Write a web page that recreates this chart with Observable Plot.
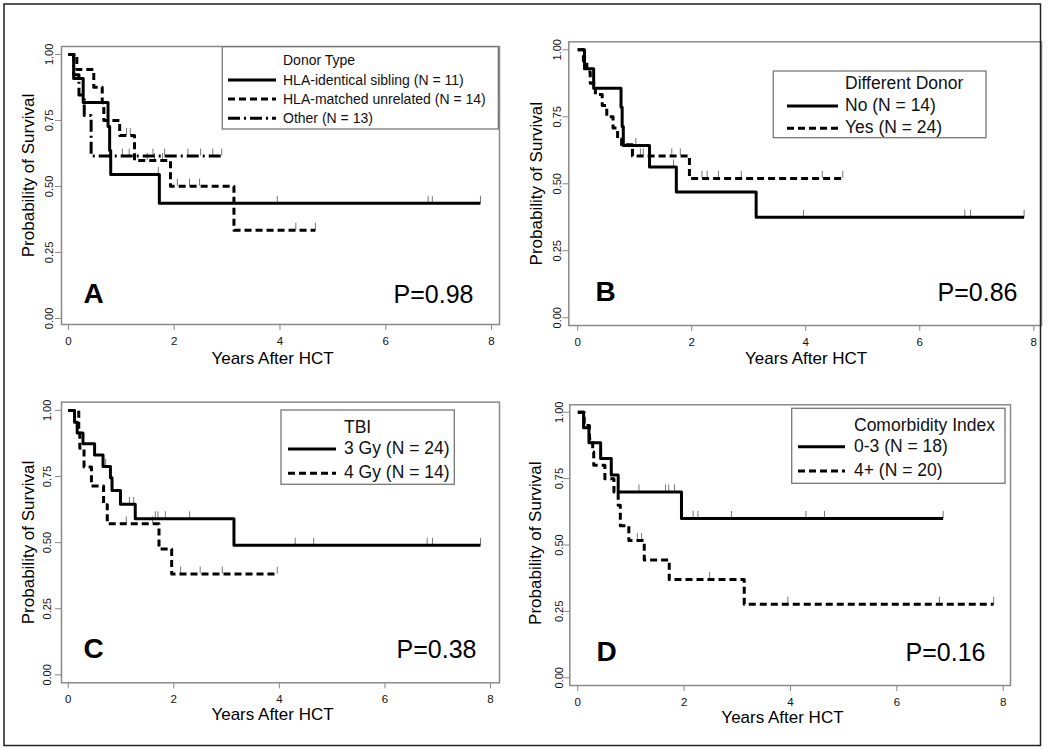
<!DOCTYPE html>
<html><head><meta charset="utf-8">
<script src="https://cdn.jsdelivr.net/npm/d3@7"></script>
<script src="https://cdn.jsdelivr.net/npm/@observablehq/plot@0.6"></script>
<style>
html,body{margin:0;padding:0;background:#fff;}
#fig{position:relative;width:1050px;height:749px;overflow:hidden;background:#fff;font-family:"Liberation Sans",Arial,Helvetica,sans-serif;}
#fig svg.panel{position:absolute;}
#overlay{position:absolute;left:0;top:0;pointer-events:none;}
</style></head><body><div id="fig"></div>
<script>
// ---------------- DATA ----------------
const xTicks = [0, 2, 4, 6, 8];
const yTicks = [0, 0.25, 0.5, 0.75, 1];
const xTitle = "Years After HCT";
const yTitle = "Probability of Survival";

// Panel A – Donor Type
const aLetter = "A";
const aPValue = "P=0.98";
const aLegendTitle = "Donor Type";
const aLabels = ["HLA-identical sibling (N = 11)", "HLA-matched unrelated (N = 14)", "Other (N = 13)"];
const aSibTime = [0, 0.10, 0.28, 0.75, 0.78, 0.80, 1.72, 7.79];
const aSibSurv = [1, 0.909, 0.818, 0.727, 0.636, 0.545, 0.436, 0.436];
const aSibCens = [1.70, 3.95, 6.80, 6.88, 7.79];
const aMudTime = [0, 0.16, 0.48, 0.64, 0.67, 0.97, 1.25, 1.93, 3.13, 4.67];
const aMudSurv = [1, 0.943, 0.876, 0.817, 0.75, 0.693, 0.598, 0.501, 0.334, 0.334];
const aMudCens = [1.10, 1.17, 1.49, 1.63, 1.78, 2.06, 2.29, 2.48, 4.30, 4.67];
const aOthTime = [0, 0.10, 0.20, 0.30, 0.43, 2.90];
const aOthSurv = [1, 0.923, 0.846, 0.769, 0.615, 0.615];
const aOthCens = [1.02, 1.15, 1.60, 1.82, 2.26, 2.50, 2.73, 2.90];

// Panel B – Different Donor
const bLetter = "B";
const bPValue = "P=0.86";
const bLegendTitle = "Different Donor";
const bLabels = ["No (N = 14)", "Yes (N = 24)"];
const bNoTime = [0, 0.12, 0.28, 0.76, 0.78, 0.80, 1.26, 1.73, 3.13, 7.83];
const bNoSurv = [1, 0.929, 0.857, 0.786, 0.714, 0.643, 0.563, 0.469, 0.375, 0.375];
const bNoCens = [1.02, 1.68, 3.96, 6.79, 6.89, 7.83];
const bYesTime = [0, 0.10, 0.16, 0.22, 0.31, 0.43, 0.51, 0.62, 0.70, 0.77, 0.96, 1.96, 4.65];
const bYesSurv = [1, 0.958, 0.917, 0.875, 0.833, 0.792, 0.75, 0.708, 0.667, 0.646, 0.604, 0.52, 0.52];
const bYesCens = [0.98, 1.10, 1.15, 1.65, 1.80, 2.18, 2.27, 2.47, 2.87, 4.29, 4.65];

// Panel C – TBI
const cLetter = "C";
const cPValue = "P=0.38";
const cLegendTitle = "TBI";
const cLabels = ["3 Gy (N = 24)", "4 Gy (N = 14)"];
const c3Time = [0, 0.12, 0.17, 0.28, 0.50, 0.66, 0.80, 0.83, 0.99, 1.27, 3.14, 7.81];
const c3Surv = [1, 0.955, 0.915, 0.874, 0.831, 0.788, 0.745, 0.697, 0.645, 0.59, 0.49, 0.49];
const c3Cens = [0.71, 1.16, 1.24, 1.65, 1.70, 1.84, 2.30, 4.30, 4.65, 6.80, 6.90, 7.81];
const c4Time = [0, 0.20, 0.22, 0.30, 0.44, 0.67, 0.74, 1.72, 1.96, 3.96];
const c4Surv = [1, 0.929, 0.857, 0.786, 0.714, 0.643, 0.571, 0.476, 0.381, 0.381];
const c4Cens = [1.10, 1.60, 2.13, 2.50, 2.92, 3.96];

// Panel D – Comorbidity Index
const dLetter = "D";
const dPValue = "P=0.16";
const dLegendTitle = "Comorbidity Index";
const dLabels = ["0-3 (N = 18)", "4+ (N = 20)"];
const d03Time = [0, 0.11, 0.21, 0.43, 0.63, 0.76, 1.95, 6.87];
const d03Surv = [1, 0.942, 0.885, 0.826, 0.764, 0.70, 0.60, 0.60];
const d03Cens = [1.15, 1.65, 1.71, 1.82, 2.17, 2.26, 2.89, 4.29, 4.64, 6.87];
const d4Time = [0, 0.12, 0.22, 0.28, 0.30, 0.51, 0.68, 0.76, 0.80, 0.96, 1.25, 1.72, 3.13, 7.82];
const d4Surv = [1, 0.95, 0.90, 0.85, 0.80, 0.75, 0.70, 0.65, 0.573, 0.517, 0.444, 0.37, 0.277, 0.277];
const d4Cens = [1.12, 1.20, 2.48, 3.95, 6.80, 7.82];

// ---------------- STYLES / LAYOUT ----------------
const SOLID = null, DASH = "7,4", DASHDOT = "12,4,2,4";
const font = "'Liberation Sans', Arial, Helvetica, sans-serif";

const panels = [
  {letter: aLetter, p: aPValue,
   series: [[aSibTime, aSibSurv, aSibCens, SOLID], [aMudTime, aMudSurv, aMudCens, DASH], [aOthTime, aOthSurv, aOthCens, DASHDOT]],
   left: 0, top: 0, width: 525, height: 375, m: [46, 26, 51, 61],
   xd: [-0.13, 8.15], yd: [-0.023, 1.03],
   letterOff: [22, -22], pOff: [-26, -22], xtOff: [-8, 39.5], ytOff: [-27.7, -10], yTickDx: -9},
  {letter: bLetter, p: bPValue,
   series: [[bNoTime, bNoSurv, bNoCens, SOLID], [bYesTime, bYesSurv, bYesCens, DASH]],
   left: 525, top: 0, width: 525, height: 375, m: [41.3, 9, 50, 43.3],
   xd: [-0.156, 8.135], yd: [-0.029, 1.03],
   letterOff: [26.7, -25], pOff: [-24, -25], xtOff: [1, 38], ytOff: [-26.6, 0], yTickDx: -8.3},
  {letter: cLetter, p: cPValue,
   series: [[c3Time, c3Surv, c3Cens, SOLID], [c4Time, c4Surv, c4Cens, DASH]],
   left: 0, top: 375, width: 525, height: 374, m: [26.7, 26, 66.7, 61],
   xd: [-0.127, 8.17], yd: [-0.03, 1.031],
   letterOff: [22, -25.3], pOff: [-23, -25.3], xtOff: [-8, 37.5], ytOff: [-27.7, 0], yTickDx: -10.5},
  {letter: dLetter, p: dPValue,
   series: [[d03Time, d03Surv, d03Cens, SOLID], [d4Time, d4Surv, d4Cens, DASH]],
   left: 525, top: 375, width: 525, height: 374, m: [29.3, 40, 64, 44.3],
   xd: [-0.15, 8.137], yd: [-0.029, 1.028],
   letterOff: [26.7, -25], pOff: [-25, -25], xtOff: [-7.7, 37], ytOff: [-29.3, -2], yTickDx: -7.3}
];

const legends = [
  {title: aLegendTitle, labels: aLabels, dashes: [SOLID, DASH, DASHDOT], box: [222.3, 46.7, 498.3, 129], textX: 283, titleY: 65, rowY: [80, 99, 118.3], base: 4.6, sample: [228, 276], fs: 14},
  {title: bLegendTitle, labels: bLabels, dashes: [SOLID, DASH], box: [773.3, 71, 986, 137.7], textX: 845, titleY: 89, rowY: [106, 128.3], base: 4.8, sample: [787, 838], fs: 17.5},
  {title: cLegendTitle, labels: cLabels, dashes: [SOLID, DASH], box: [281, 410, 454.3, 484.3], textX: 344, titleY: 433, rowY: [449, 473.3], base: 4.8, sample: [288, 336], fs: 17.5},
  {title: dLegendTitle, labels: dLabels, dashes: [SOLID, DASH], box: [791.7, 408.3, 1005, 483.3], textX: 854, titleY: 430.6, rowY: [446.7, 471], base: 4.8, sample: [798, 845], fs: 17.5}
];

function survAt(times, surv, t) {
  const i = d3.bisectRight(times, t) - 1;
  return surv[Math.max(0, Math.min(i, surv.length - 1))];
}

const fig = document.getElementById("fig");

for (const P of panels) {
  const marks = [
    Plot.frame({stroke: "#8a8a8a", strokeWidth: 1.5}),
    Plot.axisX({ticks: xTicks, tickSize: 6, tickPadding: 6, fontSize: 11.5, label: null, stroke: "#888", fill: "#111"}),
    Plot.axisY({ticks: yTicks, tickSize: 6, tickFormat: () => "", label: null, stroke: "#888"}),
    Plot.text(yTicks, {y: d => d, text: d => d3.format(".2f")(d), frameAnchor: "left", rotate: -90,
      textAnchor: "middle", lineAnchor: "bottom", dx: P.yTickDx, fontSize: 11, fill: "#111"})
  ];
  for (const [times, surv, cens, dash] of P.series) {
    marks.push(Plot.ruleX(cens.map(c => ({t: c, s: survAt(times, surv, c)})),
      {x: "t", y1: "s", y2: "s", insetTop: -7, stroke: "#777", strokeWidth: 1}));
  }
  for (const [times, surv, cens, dash] of P.series) {
    marks.push(Plot.line(times.map((t, i) => ({t, s: surv[i]})),
      {x: "t", y: "s", curve: "step-after", stroke: "black", strokeWidth: 3,
       strokeDasharray: dash == null ? undefined : dash, strokeLinecap: "butt"}));
  }
  marks.push(
    Plot.text([P.letter], {text: d => d, frameAnchor: "bottom-left", textAnchor: "start", lineAnchor: "bottom",
      dx: P.letterOff[0], dy: P.letterOff[1], fontSize: 28, fontWeight: "bold", fill: "black"}),
    Plot.text([P.p], {text: d => d, frameAnchor: "bottom-right", textAnchor: "end", lineAnchor: "bottom",
      dx: P.pOff[0], dy: P.pOff[1], fontSize: 25, fill: "black"}),
    Plot.text([xTitle], {text: d => d, frameAnchor: "bottom", textAnchor: "middle", lineAnchor: "bottom",
      dx: P.xtOff[0], dy: P.xtOff[1], fontSize: 17, fill: "black"}),
    Plot.text([yTitle], {text: d => d, frameAnchor: "left", textAnchor: "middle", lineAnchor: "bottom", rotate: -90,
      dx: P.ytOff[0], dy: P.ytOff[1], fontSize: 17, fill: "black"})
  );
  const svg = Plot.plot({
    width: P.width, height: P.height,
    marginTop: P.m[0], marginRight: P.m[1], marginBottom: P.m[2], marginLeft: P.m[3],
    x: {domain: P.xd},
    y: {domain: P.yd},
    style: {fontFamily: font, background: "transparent", overflow: "visible", color: "#111"},
    marks
  });
  svg.classList.add("panel");
  svg.style.left = P.left + "px";
  svg.style.top = P.top + "px";
  svg.style.maxWidth = "none";
  fig.appendChild(svg);
}

// overlay: legends + outer border
const ov = d3.select(fig).append("svg").attr("id", "overlay")
  .attr("width", 1050).attr("height", 749)
  .style("font-family", font);
ov.append("rect").attr("x", 4).attr("y", 4).attr("width", 1036.5).attr("height", 741.5)
  .attr("fill", "none").attr("stroke", "#222").attr("stroke-width", 1.5);
for (const L of legends) {
  const g = ov.append("g");
  g.append("rect").attr("x", L.box[0]).attr("y", L.box[1])
    .attr("width", L.box[2] - L.box[0]).attr("height", L.box[3] - L.box[1])
    .attr("fill", "white").attr("stroke", "#777").attr("stroke-width", 1.3);
  g.append("text").attr("x", L.textX).attr("y", L.titleY).attr("font-size", L.fs).attr("fill", "#111").text(L.title);
  L.labels.forEach((lab, i) => {
    const y = L.rowY[i];
    const ln = g.append("line").attr("x1", L.sample[0]).attr("x2", L.sample[1]).attr("y1", y).attr("y2", y)
      .attr("stroke", "black").attr("stroke-width", 3);
    if (L.dashes[i]) ln.attr("stroke-dasharray", L.dashes[i]);
    g.append("text").attr("x", L.textX).attr("y", y + L.base).attr("font-size", L.fs).attr("fill", "#111").text(lab);
  });
}
</script></body></html>
